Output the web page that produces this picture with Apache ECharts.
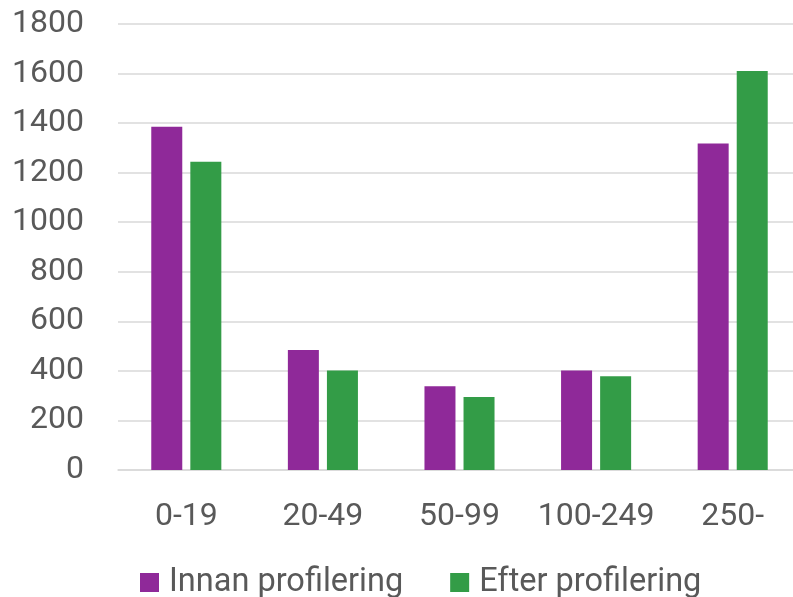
<!DOCTYPE html>
<html>
<head>
<meta charset="utf-8">
<script src="https://cdn.jsdelivr.net/npm/echarts@6/dist/echarts.min.js"></script>
<style>
html,body{margin:0;padding:0;background:#fff;overflow:hidden;width:793px;height:597px;}
#c{width:810px;height:597px;}
</style>
</head>
<body>
<div id="c"></div>
<script>
const categories = ['0-19', '20-49', '50-99', '100-249', '250-'];
const seriesNames = ['Innan profilering', 'Efter profilering'];
const innan = [1385, 484, 338, 402, 1318];
const efter = [1244, 402, 295, 378, 1610];
const yTicks = [0, 1800, 200];

const textColor = '#595959';
const font = 'Roboto';
const chart = echarts.init(document.getElementById('c'), null, {renderer: 'canvas'});
chart.setOption({
  animation: false,
  backgroundColor: '#ffffff',
  textStyle: {fontFamily: font},
  grid: {left: 118, top: 24, width: 683, bottom: 127, containLabel: false},
  legend: {
    data: seriesNames,
    left: 140,
    top: 566,
    padding: 0,
    itemWidth: 19,
    itemHeight: 19,
    itemGap: 47,
    icon: 'rect',
    textStyle: {fontFamily: font, fontSize: 32.5, color: textColor, padding: [0, 0, 0, 5]},
  },
  xAxis: {
    type: 'category',
    data: categories,
    axisLine: {show: true, lineStyle: {color: '#d9d9d9', width: 1.5}},
    axisTick: {show: false},
    axisLabel: {fontFamily: font, fontSize: 32, color: textColor, margin: 31, interval: 0},
  },
  yAxis: {
    type: 'value',
    min: yTicks[0],
    max: yTicks[1],
    interval: yTicks[2],
    axisLine: {show: false},
    axisTick: {show: false},
    axisLabel: {fontFamily: font, fontSize: 32, color: textColor, margin: 34,
                formatter: v => String(v)},
    splitLine: {lineStyle: {color: '#d9d9d9', width: 1.5}},
  },
  series: [
    {name: seriesNames[0], type: 'bar', data: innan, barWidth: 31, barGap: '26%',
     itemStyle: {color: '#8f2999'}},
    {name: seriesNames[1], type: 'bar', data: efter, barWidth: 31, barGap: '26%',
     itemStyle: {color: '#339c47'}},
  ],
});
</script>
</body>
</html>
